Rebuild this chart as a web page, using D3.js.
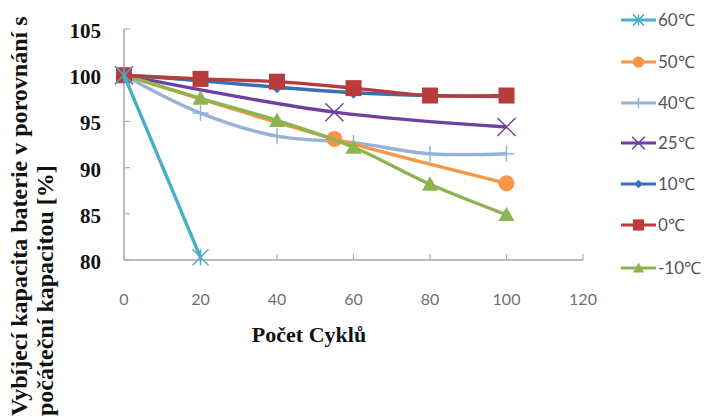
<!DOCTYPE html>
<html>
<head>
<meta charset="utf-8">
<script src="https://cdn.jsdelivr.net/npm/d3@7"></script>
<style>
  body { margin: 0; background: #fff; }
  svg { display: block; }
</style>
</head>
<body>
<div id="chart"></div>
<script>
// data
const labels = ['60℃', '50℃', '40℃', '25℃', '10℃', '0℃', '-10℃']
const colors = ['#4bacc6', '#f79646', '#95b3d7', '#7040a0', '#3a6fb5', '#b83c3c', '#8cb550']
const shapes = ['star', 'circle', 'plus', 'cross', 'diamond', 'square', 'triangle']

const x60 = [0, 20]
const y60 = [100, 80.3]
const x50 = [0, 55, 100]
const y50 = [100, 93.1, 88.3]
const x40 = [0, 20, 40, 60, 80, 100]
const y40 = [100, 95.9, 93.4, 92.7, 91.5, 91.5]
const x25 = [0, 55, 100]
const y25 = [100, 96.0, 94.4]
const x10 = [0, 20, 40, 60, 80, 100]
const y10 = [100, 99.4, 98.7, 98.1, 97.8, 97.7]
const x0 = [0, 20, 40, 60, 80, 100]
const y0 = [100, 99.6, 99.3, 98.6, 97.8, 97.8]
const xm10 = [0, 20, 40, 60, 80, 100]
const ym10 = [100, 97.5, 95.1, 92.2, 88.2, 84.9]

const xTicks = [0, 20, 40, 60, 80, 100, 120]
const yTicks = [80, 85, 90, 95, 100, 105]

const seriesX = [x60, x50, x40, x25, x10, x0, xm10]
const seriesY = [y60, y50, y40, y25, y10, y0, ym10]

const W = 725, H = 417

let svg = d3.select('#chart').append('svg')
  .attr('width', W).attr('height', H)

let x = d3.scaleLinear().domain([0, 120]).range([124, 583])
let y = d3.scaleLinear().domain([80, 105]).range([260, 29])

// axes
svg.append('line').attr('x1', x(0)).attr('x2', x(0)).attr('y1', y(105)).attr('y2', y(80))
  .attr('stroke', '#a6a6a6').attr('stroke-width', 1.5)
svg.append('line').attr('x1', x(0)).attr('x2', x(120)).attr('y1', y(80)).attr('y2', y(80))
  .attr('stroke', '#a6a6a6').attr('stroke-width', 1.5)

svg.selectAll('.ytick').data(yTicks).enter().append('line')
  .attr('x1', x(0)).attr('x2', x(0) + 6)
  .attr('y1', d => y(d)).attr('y2', d => y(d))
  .attr('stroke', '#b0b0b0').attr('stroke-width', 1.2)
svg.selectAll('.xtick').data(xTicks.slice(1)).enter().append('line')
  .attr('x1', d => x(d)).attr('x2', d => x(d))
  .attr('y1', y(80)).attr('y2', y(80) - 6)
  .attr('stroke', '#b0b0b0').attr('stroke-width', 1.2)

svg.selectAll('.ylab').data(yTicks).enter().append('text')
  .attr('x', 101).attr('y', d => y(d) + 9)
  .attr('text-anchor', 'end')
  .style('font-family', 'Liberation Serif, serif').style('font-weight', 'bold')
  .style('font-size', '21px').attr('fill', '#111')
  .text(d => d)

svg.selectAll('.xlab').data(xTicks).enter().append('text')
  .attr('x', d => x(d)).attr('y', 305)
  .attr('text-anchor', 'middle')
  .style('font-family', 'Lato, sans-serif').style('font-size', '16px')
  .attr('fill', '#707070')
  .text(d => d)

svg.append('text').attr('x', 309).attr('y', 342)
  .attr('text-anchor', 'middle')
  .style('font-family', 'Liberation Serif, serif').style('font-weight', 'bold')
  .style('font-size', '22px').attr('fill', '#111')
  .text('Počet Cyklů')

let ytitle = svg.append('text')
  .attr('transform', 'translate(0,416) rotate(-90)')
  .style('font-family', 'Liberation Serif, serif').style('font-weight', 'bold')
  .style('font-size', '21px').attr('fill', '#111')
let t1 = ytitle.append('tspan').attr('x', 0).attr('y', 27).text('Vybíjecí kapacita baterie v porovnání s')
ytitle.append('tspan').attr('x', 0).attr('y', 53).text('počáteční kapacitou [%]')
// fit first line to about 400px
let len = t1.node().getComputedTextLength()
ytitle.style('font-size', (21 * 400 / len) + 'px')

// markers
function marker(g, shape, cx, cy, s, color) {
  if (shape === 'square') {
    g.append('rect').attr('x', cx - s).attr('y', cy - s).attr('width', 2 * s).attr('height', 2 * s).attr('fill', color)
  } else if (shape === 'circle') {
    g.append('circle').attr('cx', cx).attr('cy', cy).attr('r', s).attr('fill', color)
  } else if (shape === 'triangle') {
    g.append('path').attr('d', `M${cx},${cy - s}L${cx + s},${cy + s * 0.8}L${cx - s},${cy + s * 0.8}Z`).attr('fill', color)
  } else if (shape === 'diamond') {
    g.append('path').attr('d', `M${cx},${cy - s}L${cx + s},${cy}L${cx},${cy + s}L${cx - s},${cy}Z`).attr('fill', color)
  } else if (shape === 'plus') {
    g.append('path').attr('d', `M${cx - s},${cy}H${cx + s}M${cx},${cy - s}V${cy + s}`).attr('stroke', color).attr('stroke-width', 1.5)
  } else if (shape === 'cross') {
    g.append('path').attr('d', `M${cx - s},${cy - s}L${cx + s},${cy + s}M${cx - s},${cy + s}L${cx + s},${cy - s}`).attr('stroke', color).attr('stroke-width', 1.5)
  } else if (shape === 'star') {
    g.append('path').attr('d', `M${cx - s},${cy - s}L${cx + s},${cy + s}M${cx - s},${cy + s}L${cx + s},${cy - s}M${cx},${cy - s}V${cy + s}`).attr('stroke', color).attr('stroke-width', 1.5)
  }
}

const markerSize = { square: 8, circle: 8, triangle: 8, diamond: 6, plus: 8, cross: 9, star: 8 }

let line = d3.line().x(d => x(d[0])).y(d => y(d[1])).curve(d3.curveCatmullRom.alpha(0.5))

// draw order: back to front
const order = [2, 3, 1, 6, 4, 5, 0]
order.forEach(i => {
  let pts = seriesX[i].map((v, j) => [v, seriesY[i][j]])
  let g = svg.append('g')
  g.append('path').datum(pts).attr('d', line)
    .attr('fill', 'none').attr('stroke', colors[i]).attr('stroke-width', 3.4)
  pts.forEach(p => marker(g, shapes[i], x(p[0]), y(p[1]), markerSize[shapes[i]], colors[i]))
})

// legend
const legY = [20, 62, 103, 143, 184, 225, 268]
labels.forEach((lab, i) => {
  let g = svg.append('g')
  g.append('line').attr('x1', 621).attr('x2', 656).attr('y1', legY[i]).attr('y2', legY[i])
    .attr('stroke', colors[i]).attr('stroke-width', 3)
  marker(g, shapes[i], 638.5, legY[i], markerSize[shapes[i]] * 0.7, colors[i])
  g.append('text').attr('x', 658).attr('y', legY[i] + 6)
    .style('font-family', 'Lato, sans-serif').style('font-size', '17px')
    .attr('fill', '#555')
    .text(lab)
})
</script>
</body>
</html>
